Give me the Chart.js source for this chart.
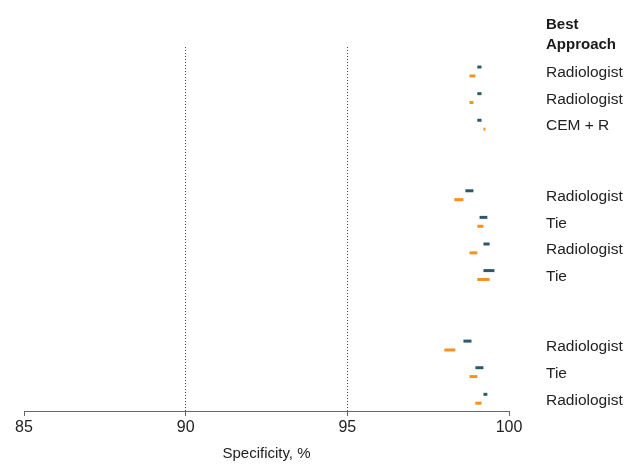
<!DOCTYPE html>
<html>
<head>
<meta charset="utf-8">
<script src="https://cdn.jsdelivr.net/npm/chart.js@4/dist/chart.umd.min.js"></script>
<style>
  html, body { margin: 0; padding: 0; background: #fff; }
  #wrap { width: 635px; height: 464px; }
</style>
</head>
<body>
<div id="wrap"><canvas id="c" width="635" height="464"></canvas></div>
<script>
// ---- data ----
const groupSizes = [3, 4, 3];
const bestApproach = ['Radiologist', 'Radiologist', 'CEM + R',
  'Radiologist', 'Tie', 'Radiologist', 'Tie',
  'Radiologist', 'Tie', 'Radiologist'];
const tealLow  = [99.02, 99.02, 99.02, 98.65, 99.09, 99.21, 99.21, 98.59, 98.96, 99.21];
const tealHigh = [99.15, 99.15, 99.15, 98.90, 99.33, 99.40, 99.55, 98.84, 99.21, 99.33];
const orangeLow  = [98.78, 98.78, 99.21, 98.31, 99.02, 98.78, 99.02, 98.00, 98.78, 98.96];
const orangeHigh = [98.96, 98.90, 99.27, 98.59, 99.21, 99.02, 99.40, 98.34, 99.02, 99.15];
const xTicks = [85, 90, 95, 100];
const headerLines = ['Best', 'Approach'];

// row positions (layout, computed from group structure)
const GROUP_GAP = 1.65;
const rowPos = [];
groupSizes.forEach((n, g) => {
  for (let i = 0; i < n; i++) rowPos.push(rowPos.length + g * GROUP_GAP);
});

const FONT = "'Liberation Sans', Arial, sans-serif";

const headerPlugin = {
  id: 'header',
  afterDraw(chart) {
    const ys = chart.scales.y;
    const ctx = chart.ctx;
    ctx.save();
    ctx.font = 'bold 15px ' + FONT;
    ctx.fillStyle = '#1a1a1a';
    ctx.textAlign = 'left';
    ctx.textBaseline = 'middle';
    const x = ys.left + 37;
    ctx.fillText(headerLines[0], x, 25);
    ctx.fillText(headerLines[1], x, 45);
    ctx.restore();
  }
};

new Chart(document.getElementById('c'), {
  type: 'bar',
  data: {
    datasets: [
      {
        data: rowPos.map((p, i) => ({ y: p, x: [tealLow[i], tealHigh[i]] })),
        backgroundColor: '#2b5a6a',
        borderWidth: 0,
        categoryPercentage: 0.667,
        barPercentage: 1,
        maxBarThickness: 3
      },
      {
        data: rowPos.map((p, i) => ({ y: p, x: [orangeLow[i], orangeHigh[i]] })),
        backgroundColor: '#f5911e',
        borderWidth: 0,
        categoryPercentage: 0.667,
        barPercentage: 1,
        maxBarThickness: 3
      }
    ]
  },
  options: {
    indexAxis: 'y',
    responsive: false,
    animation: false,
    layout: { padding: { top: 47, left: 24, right: 0, bottom: 0 } },
    plugins: { legend: { display: false }, tooltip: { enabled: false } },
    scales: {
      x: {
        type: 'linear',
        position: 'bottom',
        min: 85, max: 100,
        afterBuildTicks: s => { s.ticks = xTicks.map(v => ({ value: v })); },
        afterFit: s => { s.height = 53; },
        ticks: {
          font: { family: FONT, size: 16 },
          color: '#222',
          padding: 2,
          autoSkip: false,
          maxRotation: 0
        },
        grid: {
          color: c => (c.tick && (c.tick.value === 90 || c.tick.value === 95)) ? '#444' : 'rgba(0,0,0,0)',
          tickColor: '#666',
          tickLength: 5,
          tickBorderDash: [],
          lineWidth: 1
        },
        border: { display: true, color: '#666', width: 1, dash: [1, 2] },
        title: {
          display: true,
          text: 'Specificity, %',
          font: { family: FONT, size: 15 },
          color: '#222',
          padding: { top: 6, bottom: 1 }
        }
      },
      y: {
        type: 'linear',
        position: 'right',
        reverse: true,
        offset: false,
        min: -0.92, max: 12.76,
        afterBuildTicks: s => { s.ticks = rowPos.map(v => ({ value: v })); },
        afterFit: s => { s.width = 126; },
        ticks: {
          autoSkip: false,
          padding: 37,
          labelOffset: 1.5,
          font: { family: FONT, size: 15.5 },
          color: '#222',
          callback: v => {
            const i = rowPos.findIndex(p => Math.abs(p - v) < 1e-6);
            return i >= 0 ? bestApproach[i] : '';
          }
        },
        grid: { display: false, drawTicks: false, offset: false },
        border: { display: false }
      }
    }
  },
  plugins: [headerPlugin]
});
</script>
</body>
</html>
